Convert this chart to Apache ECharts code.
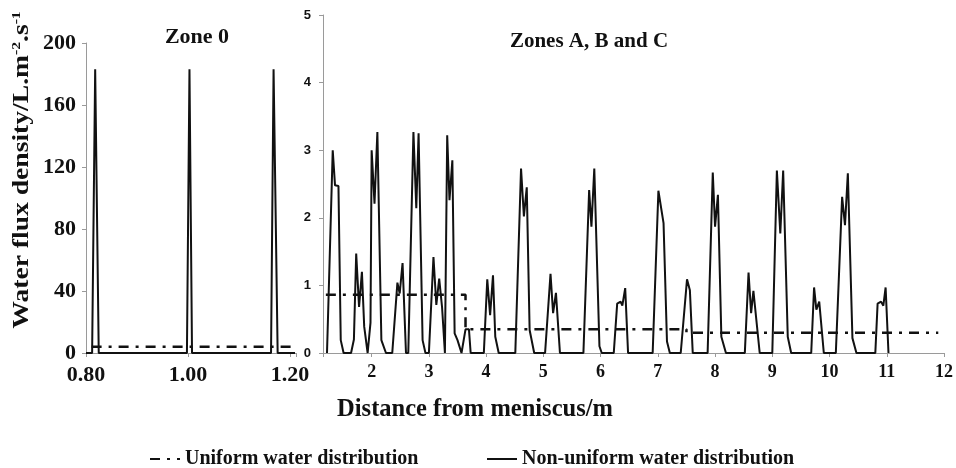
<!DOCTYPE html>
<html lang="en">
<head>
    <meta charset="utf-8">
    <title>Water flux density</title>
    <script src="https://cdn.jsdelivr.net/npm/echarts@6/dist/echarts.min.js"></script>
    <style>
        html, body { margin: 0; padding: 0; background: #fff; }
        #chart { width: 956px; height: 468px; }
    </style>
</head>
<body>
    <div id="chart"></div>
    <script type="text/javascript">
        // 图例名称
        var uniformName = 'Uniform water distribution';
        var nonUniformName = 'Non-uniform water distribution';

        // Zone 0: [distance m, flux]
        var zone0NonUniform = [[0.80, 0], [0.812, 0], [0.818, 183], [0.825, 0], [0.998, 0], [1.003, 183], [1.008, 0],
            [1.163, 0], [1.168, 183], [1.176, 0], [1.21, 0]];
        var zone0Uniform = [[0.811, 4], [1.21, 4]];

        // Zones A, B and C
        var zoneABCNonUniform = [[1.22, 0], [1.32, 3.0], [1.36, 2.48], [1.42, 2.47], [1.46, 0.19], [1.51, 0], [1.64, 0],
            [1.69, 0.2], [1.73, 1.47], [1.78, 0.68], [1.83, 1.2], [1.87, 0.39], [1.93, 0], [1.98, 0.45], [2.0, 3.0],
            [2.05, 2.21], [2.1, 3.27], [2.17, 0.19], [2.25, 0], [2.36, 0], [2.45, 1.04], [2.49, 0.88], [2.54, 1.33],
            [2.6, 0], [2.64, 0], [2.73, 3.27], [2.78, 2.14], [2.82, 3.25], [2.89, 0.19], [2.94, 0], [3.0, 0],
            [3.08, 1.42], [3.13, 0.71], [3.18, 1.1], [3.23, 0.68], [3.28, 0], [3.32, 3.22], [3.36, 2.26], [3.41, 2.85],
            [3.45, 0.29], [3.5, 0.19], [3.57, 0], [3.64, 0.35], [3.7, 0.35], [3.73, 0], [3.96, 0], [4.02, 1.09],
            [4.07, 0.56], [4.12, 1.15], [4.16, 0.24], [4.22, 0], [4.51, 0], [4.61, 2.73], [4.66, 2.02], [4.71, 2.45],
            [4.76, 0.34], [4.84, 0], [5.03, 0], [5.125, 1.17], [5.17, 0.59], [5.22, 0.89], [5.29, 0], [5.7, 0],
            [5.8, 2.41], [5.84, 1.87], [5.89, 2.73], [5.98, 0.1], [6.02, 0], [6.23, 0], [6.29, 0.73], [6.35, 0.76],
            [6.38, 0.7], [6.43, 0.96], [6.48, 0], [6.91, 0], [7.01, 2.4], [7.1, 1.92], [7.16, 0.17], [7.21, 0],
            [7.4, 0], [7.51, 1.09], [7.56, 0.93], [7.61, 0], [7.87, 0], [7.96, 2.67], [8.0, 1.87], [8.05, 2.34],
            [8.11, 0.24], [8.19, 0], [8.52, 0], [8.585, 1.19], [8.63, 0.59], [8.67, 0.92], [8.78, 0], [9.0, 0],
            [9.08, 2.7], [9.14, 1.77], [9.19, 2.7], [9.27, 0.24], [9.33, 0], [9.68, 0], [9.73, 0.97], [9.77, 0.64],
            [9.82, 0.76], [9.85, 0.74], [9.9, 0], [10.11, 0], [10.22, 2.31], [10.27, 1.89], [10.32, 2.66],
            [10.4, 0.22], [10.47, 0], [10.8, 0], [10.84, 0.73], [10.9, 0.76], [10.94, 0.7], [10.98, 0.97], [11.03, 0]];
        var zoneABCUniform = [[1.2, 0.86], [3.64, 0.86], [3.64, 0.35], [7.5, 0.35], [7.5, 0.3], [11.9, 0.3]];

        // 刻度
        var zone0YTicks = [0, 200, 40];
        var zone0XTicks = [0.8, 1.212, 0.2];
        var zoneABCYTicks = [0, 5, 1];
        var zoneABCXTicks = [1.15, 12, 1];

        var serif = '"Liberation Serif", "Times New Roman", serif';
        var ink = '#111';
        var axisGray = '#9a9a9a';
        var dashDot = [10, 7, 3, 7];

        var mychart = echarts.init(document.getElementById('chart'), null, { renderer: 'canvas' });

        function axisBase(extra) {
            var base = {
                type: 'value',
                axisLine: { show: true, lineStyle: { color: axisGray, width: 1 } },
                axisTick: { show: true, inside: false, length: 4, lineStyle: { color: axisGray } },
                splitLine: { show: false }
            };
            for (var k in extra) base[k] = extra[k];
            return base;
        }

        function legendAt(left, name) {
            return {
                left: left, top: 449, padding: 0, itemWidth: 30, itemHeight: 10, itemGap: 0,
                data: [name],
                itemStyle: { opacity: 0 },
                textStyle: { fontFamily: serif, fontWeight: 'bold', fontSize: 20, color: ink }
            };
        }

        var option = {
            backgroundColor: '#fff',
            animation: false,
            grid: [
                { left: 86, top: 43, width: 210, height: 310, containLabel: false },
                { left: 323, top: 15, width: 625, height: 338, containLabel: false }
            ],
            xAxis: [
                axisBase({
                    gridIndex: 0, min: zone0XTicks[0], max: zone0XTicks[1], interval: zone0XTicks[2],
                    axisLabel: {
                        margin: 11, fontFamily: serif, fontWeight: 'bold', fontSize: 22, color: ink,
                        formatter: function (v) {
                            var r = Math.round(v / 0.2) * 0.2;
                            return Math.abs(r - v) < 1e-6 ? v.toFixed(2) : '';
                        }
                    }
                }),
                axisBase({
                    gridIndex: 1, min: zoneABCXTicks[0], max: zoneABCXTicks[1],
                    minInterval: zoneABCXTicks[2], maxInterval: zoneABCXTicks[2],
                    axisLabel: {
                        margin: 10, fontFamily: serif, fontWeight: 'bold', fontSize: 18, color: ink,
                        formatter: function (v) { return Math.abs(v - Math.round(v)) < 1e-6 ? String(Math.round(v)) : ''; }
                    }
                })
            ],
            yAxis: [
                axisBase({
                    gridIndex: 0, min: zone0YTicks[0], max: zone0YTicks[1], interval: zone0YTicks[2],
                    axisLabel: { margin: 10, fontFamily: serif, fontWeight: 'bold', fontSize: 22, color: ink }
                }),
                axisBase({
                    gridIndex: 1, min: zoneABCYTicks[0], max: zoneABCYTicks[1], interval: zoneABCYTicks[2],
                    axisLabel: { margin: 12, fontFamily: '"Liberation Sans", Arial, sans-serif', fontWeight: 'bold', fontSize: 13, color: ink }
                })
            ],
            legend: [legendAt(149, uniformName), legendAt(486, nonUniformName)],
            graphic: [
                {
                    type: 'text', x: 197, y: 37,
                    style: { text: 'Zone 0', align: 'center', verticalAlign: 'middle', fontFamily: serif, fontWeight: 'bold', fontSize: 22, fill: ink }
                },
                {
                    type: 'text', x: 589, y: 42,
                    style: { text: 'Zones A, B and C', align: 'center', verticalAlign: 'middle', fontFamily: serif, fontWeight: 'bold', fontSize: 21, fill: ink }
                },
                {
                    type: 'text', x: 475, y: 410,
                    style: { text: 'Distance from meniscus/m', align: 'center', verticalAlign: 'middle', fontFamily: serif, fontWeight: 'bold', fontSize: 24.5, fill: ink }
                },
                {
                    type: 'text', x: 22, y: 170, rotation: Math.PI / 2, scaleX: 1.2,
                    style: {
                        text: 'Water flux density/L.m{s|-2}.s{s|-1}',
                        align: 'center', verticalAlign: 'middle',
                        fontFamily: serif, fontWeight: 'bold', fontSize: 23, fill: ink,
                        rich: { s: { fontFamily: serif, fontWeight: 'bold', fontSize: 13, verticalAlign: 'top', fill: ink } }
                    }
                }
            ],
            series: [
                {
                    name: uniformName, type: 'line', xAxisIndex: 0, yAxisIndex: 0,
                    symbol: 'none', data: zone0Uniform,
                    lineStyle: { color: ink, width: 2.5, type: dashDot }, itemStyle: { color: ink }
                },
                {
                    name: nonUniformName, type: 'line', xAxisIndex: 0, yAxisIndex: 0,
                    symbol: 'none', data: zone0NonUniform,
                    lineStyle: { color: ink, width: 2 }, itemStyle: { color: ink }
                },
                {
                    name: uniformName, type: 'line', xAxisIndex: 1, yAxisIndex: 1,
                    symbol: 'none', data: zoneABCUniform,
                    lineStyle: { color: ink, width: 2.5, type: dashDot }, itemStyle: { color: ink }
                },
                {
                    name: nonUniformName, type: 'line', xAxisIndex: 1, yAxisIndex: 1,
                    symbol: 'none', data: zoneABCNonUniform,
                    lineStyle: { color: ink, width: 2 }, itemStyle: { color: ink }
                }
            ]
        };
        mychart.setOption(option);
    </script>
</body>
</html>
